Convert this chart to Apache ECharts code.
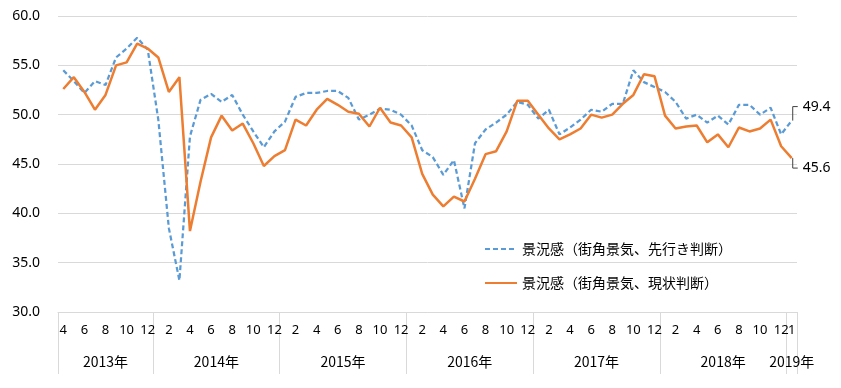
<!DOCTYPE html>
<html><head><meta charset="utf-8">
<script src="https://cdn.jsdelivr.net/npm/echarts@6/dist/echarts.min.js"></script>
<style>html,body{margin:0;padding:0;background:#fff}#c{width:841px;height:388px}</style>
</head><body><div id="c"></div>
<script>
const categories = [
  '2013/4','2013/5','2013/6','2013/7','2013/8','2013/9','2013/10','2013/11','2013/12',
  '2014/1','2014/2','2014/3','2014/4','2014/5','2014/6','2014/7','2014/8','2014/9','2014/10','2014/11','2014/12',
  '2015/1','2015/2','2015/3','2015/4','2015/5','2015/6','2015/7','2015/8','2015/9','2015/10','2015/11','2015/12',
  '2016/1','2016/2','2016/3','2016/4','2016/5','2016/6','2016/7','2016/8','2016/9','2016/10','2016/11','2016/12',
  '2017/1','2017/2','2017/3','2017/4','2017/5','2017/6','2017/7','2017/8','2017/9','2017/10','2017/11','2017/12',
  '2018/1','2018/2','2018/3','2018/4','2018/5','2018/6','2018/7','2018/8','2018/9','2018/10','2018/11','2018/12',
  '2019/1'
];
// 景況感（街角景気、先行き判断）
const outlookDI = [
  54.5, 53.4, 52.2, 53.4, 53.0, 55.8, 56.7, 57.8, 56.6,
  49.5, 38.5, 33.2, 47.8, 51.5, 52.1, 51.3, 52.0, 50.0, 48.3, 46.7, 48.3,
  49.3, 51.8, 52.2, 52.2, 52.4, 52.4, 51.7, 49.5, 50.0, 50.6, 50.5, 50.0,
  48.9, 46.4, 45.7, 43.9, 45.4, 40.5, 47.1, 48.5, 49.2, 50.0, 51.3, 51.0,
  49.6, 50.5, 48.0, 48.7, 49.5, 50.5, 50.3, 51.1, 51.1, 54.5, 53.3, 52.8,
  52.3, 51.3, 49.6, 50.0, 49.2, 49.9, 49.0, 51.0, 51.0, 50.0, 50.7, 48.0,
  49.4
];
// 景況感（街角景気、現状判断）
const currentDI = [
  52.6, 53.8, 52.3, 50.5, 52.0, 55.0, 55.3, 57.2, 56.7,
  55.8, 52.3, 53.8, 38.2, 43.2, 47.7, 49.9, 48.4, 49.1, 47.1, 44.8, 45.8,
  46.4, 49.5, 48.9, 50.5, 51.6, 51.0, 50.3, 50.1, 48.8, 50.7, 49.2, 48.9,
  47.7, 44.0, 41.9, 40.7, 41.7, 41.2, 43.5, 46.0, 46.3, 48.3, 51.4, 51.4,
  50.0, 48.6, 47.5, 48.0, 48.6, 50.0, 49.7, 50.0, 51.1, 52.0, 54.1, 53.9,
  49.9, 48.6, 48.8, 48.9, 47.2, 48.0, 46.7, 48.7, 48.3, 48.6, 49.5, 46.8,
  45.6
];
const seriesNames = ['景況感（街角景気、先行き判断）', '景況感（街角景気、現状判断）'];
const yMin = 30, yMax = 60, yInterval = 5;
const yearSuffix = '年';

// year spans -> label index at the middle of each year
const spans = {};
categories.forEach((c, i) => { const y = c.split('/')[0]; (spans[y] = spans[y] || []).push(i); });
const yearLabelAt = {};
Object.keys(spans).forEach(y => {
  const a = spans[y];
  const mid = Math.ceil((a[0] + a[a.length - 1]) / 2);
  yearLabelAt[mid] = { year: y, even: a.length % 2 === 0 };
});
const last = categories.length - 1;

const JP = '"Noto Sans CJK JP", "Noto Sans", sans-serif';
const monthLabelStyle = { margin: 12, fontSize: 13, fontFamily: '"Noto Sans", sans-serif', color: '#000',
  hideOverlap: false, formatter: (v) => v.split('/')[1] };
const chart = echarts.init(document.getElementById('c'), null, { renderer: 'canvas' });
chart.setOption({
  animation: false,
  grid: { left: 58, right: 44, top: 16, bottom: 76, containLabel: false },
  legend: {
    data: seriesNames, orient: 'vertical', left: 479, top: 237,
    itemWidth: 32, itemHeight: 14, itemGap: 20,
    itemStyle: { opacity: 0, color: 'transparent', borderColor: 'transparent', borderWidth: 0 },
    textStyle: { fontFamily: JP, fontSize: 14, color: '#000' }
  },
  xAxis: [
    {
      type: 'category', data: categories, boundaryGap: true, position: 'bottom',
      axisLine: { show: false }, axisTick: { show: false },
      axisLabel: Object.assign({ interval: (i) => i % 2 === 0 && i !== last }, monthLabelStyle)
    },
    {
      type: 'category', data: categories, boundaryGap: true, position: 'bottom',
      axisLine: { show: true, lineStyle: { color: '#d9d9d9', width: 1 } },
      axisTick: {
        show: true, length: 62, lineStyle: { color: '#d9d9d9', width: 1 },
        interval: (i, v) => i === 0 || v.split('/')[1] === '1'
      },
      axisLabel: {
        interval: (i) => yearLabelAt[i] !== undefined,
        hideOverlap: false,
        formatter: (v, i) => {
          const info = yearLabelAt[i];
          if (!info) return '';
          return '{' + (info.even ? 's' : 'c') + '|' + info.year + yearSuffix + '}';
        },
        margin: 43,
        rich: {
          s: { fontFamily: JP, fontSize: 14, color: '#000', padding: [0, 10.5, 0, 0] },
          c: { fontFamily: JP, fontSize: 14, color: '#000' }
        }
      }
    },
    {
      type: 'category', data: categories, boundaryGap: true, position: 'bottom',
      axisLine: { show: false }, axisTick: { show: false },
      axisLabel: Object.assign({ interval: (i) => i === last, showMaxLabel: true }, monthLabelStyle)
    }
  ],
  yAxis: {
    type: 'value', min: yMin, max: yMax, interval: yInterval,
    axisLine: { show: false }, axisTick: { show: false },
    splitLine: { lineStyle: { color: '#d9d9d9', width: 1 } },
    axisLabel: {
      formatter: (v) => v.toFixed(1), margin: 18, fontSize: 14,
      fontFamily: '"Noto Sans", sans-serif', color: '#000'
    }
  },
  series: [
    {
      name: seriesNames[0], type: 'line', data: outlookDI, symbol: 'none', showSymbol: false,
      color: '#5B9BD5', lineStyle: { color: '#5B9BD5', width: 2.25, type: [5, 3] }, z: 3
    },
    {
      name: seriesNames[1], type: 'line', data: currentDI, symbol: 'none', showSymbol: false,
      color: '#ED7D31', lineStyle: { color: '#ED7D31', width: 2.5, type: 'solid' }, z: 4
    },
    {
      type: 'custom', silent: true, clip: false, z: 6,
      data: [[last, outlookDI[last], -1], [last, currentDI[last], 1]],
      renderItem: (params, api) => {
        const p = api.coord([api.value(0), api.value(1)]);
        const d = api.value(2);
        const y2 = p[1] + (d < 0 ? -14 : 10);
        return {
          type: 'group',
          children: [
            { type: 'polyline', shape: { points: [[p[0] + 1, p[1]], [p[0] + 1, y2], [p[0] + 6, y2]] },
              style: { stroke: '#404040', lineWidth: 1, fill: null } },
            { type: 'text', style: { text: api.value(1).toFixed(1), x: p[0] + 11, y: y2,
              verticalAlign: 'middle', align: 'left', font: '14px "Noto Sans", sans-serif', fill: '#000' } }
          ]
        };
      }
    }
  ]
});
</script>
</body></html>
